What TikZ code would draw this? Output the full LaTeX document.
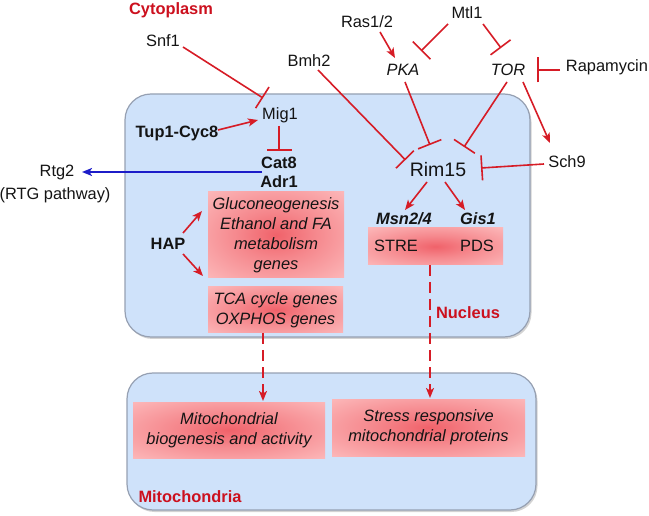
\documentclass[tikz,border=0pt]{standalone}
\usepackage{fontspec}
\setmainfont{Liberation Sans}
\usetikzlibrary{arrows.meta,shadows}
\definecolor{myred}{RGB}{214,28,38}
\definecolor{labred}{RGB}{204,16,30}
\definecolor{myblue}{RGB}{28,28,200}
\definecolor{nucfill}{RGB}{207,226,250}
\definecolor{boxedge}{RGB}{150,160,178}
\definecolor{pinkc}{RGB}{240,98,106}
\definecolor{pinke}{RGB}{255,204,204}
\pgfdeclareradialshading{pinkblob}{\pgfpoint{0bp}{0bp}}{color(0bp)=(pinkc); color(14bp)=(pinkc!65!pinke); color(45bp)=(pinke); color(75bp)=(pinke)}
\newcommand\basefont{\fontsize{16.4}{20}\selectfont}
\begin{document}
\begin{tikzpicture}[x=1pt,y=-1pt,
  lbl/.style={inner sep=0pt, align=center, text=black!92, font=\basefont},
  lblit/.style={lbl, font=\basefont\itshape},
  lblb/.style={lbl, font=\basefont\bfseries},
  lblbi/.style={lbl, font=\basefont\bfseries\itshape},
  lblr/.style={lbl, text=labred, font=\basefont\bfseries},
  act/.style={draw=myred, line width=1.6pt, -{Stealth[length=10pt,width=8pt,inset=2.5pt]}},
  inh/.style={draw=myred, line width=1.6pt, -{Bar[width=25pt,line width=1.6pt]}},
  dashact/.style={act, dash pattern=on 11pt off 6pt},
  compart/.style={fill=nucfill, draw=boxedge, line width=1.2pt, rounded corners=26pt,
     drop shadow={shadow xshift=1.5pt, shadow yshift=-2pt, opacity=0.35}},
  pinkbox/.style={shade, shading=pinkblob, inner sep=0pt, align=center, font=\basefont\itshape, text=black!92}
]
\useasboundingbox (0,0) rectangle (649,516);

% compartments
\node[compart, minimum width=405pt, minimum height=243pt] (nucbox) at (327.5,215.5) {};
\node[compart, minimum width=409pt, minimum height=137pt] (mitobox) at (331.5,441.5) {};

% pink gene boxes
\node[pinkbox, minimum width=136pt, minimum height=86pt] (gluco) at (276,235) {Gluconeogenesis\\Ethanol and FA\\metabolism\\genes};
\node[pinkbox, minimum width=135pt, minimum height=46pt] (tca) at (275.5,310) {TCA cycle genes\\OXPHOS genes};
\node[pinkbox, minimum width=135pt, minimum height=37pt] (stbox) at (435.5,246.5) {};
\node[pinkbox, minimum width=192pt, minimum height=56pt] (mitoa) at (229,430) {Mitochondrial\\biogenesis and activity};
\node[pinkbox, minimum width=193pt, minimum height=57pt] (mitob) at (428.5,427.5) {Stress responsive\\mitochondrial proteins};

% labels
\node[lblr] (cyto) at (171,10) {Cytoplasm};
\node[lbl] (snf) at (163,41) {Snf1};
\node[lbl] (bmh) at (309,61) {Bmh2};
\node[lbl] (ras) at (367,22) {Ras1/2};
\node[lbl] (mtl) at (467,13) {Mtl1};
\node[lblit] (pka) at (403,70) {PKA};
\node[lblit] (tor) at (508,70) {TOR};
\node[lbl] (rapa) at (607,67) {Rapamycin};
\node[lbl] (sch) at (567,162) {Sch9};
\node[lbl, font=\fontsize{19.5}{22}\selectfont] (rim) at (438,170) {Rim15};
\node[lbl] (mig) at (280,115) {Mig1};
\node[lblb] (tup) at (177,133) {Tup1-Cyc8};
\node[lblb] (cat) at (279,163) {Cat8};
\node[lblb] (adr) at (279,182) {Adr1};
\node[lbl] (rtg) at (57,172) {Rtg2};
\node[lbl] (rtgp) at (55,195) {(RTG pathway)};
\node[lblb] (hap) at (168,244) {HAP};
\node[lblbi] (msn) at (404,219) {Msn2/4};
\node[lblbi] (gis) at (478,219) {Gis1};
\node[lbl] (stre) at (396,246) {STRE};
\node[lbl] (pds) at (477,246) {PDS};
\node[lblr] (nuc) at (468,313) {Nucleus};
\node[lblr] (mito) at (190,497) {Mitochondria};

% connectors
\draw[inh] ([shift={(20,6)}]snf.center) -- ([shift={(-17,-17)}]mig.center);
\draw[act] ([shift={(41,-3)}]tup.center) -- ([shift={(-22,5)}]mig.center);
\draw[inh] ([shift={(-1,11)}]mig.center) -- ([shift={(0,-12)}]cat.center);
\draw[draw=myblue, line width=1.6pt, -{Stealth[length=10pt,width=8pt,inset=2.5pt]}] ([shift={(-17,9)}]cat.center) -- ([shift={(25,0)}]rtg.center);
\draw[inh] ([shift={(9,9)}]bmh.center) -- ([shift={(-32.5,-10)}]rim.center);
\draw[act] ([shift={(13,10)}]ras.center) -- ([shift={(-8,-12)}]pka.center);
\draw[inh] ([shift={(-19,11)}]mtl.center) -- ([shift={(18,-19)}]pka.center);
\draw[inh] ([shift={(16,11)}]mtl.center) -- ([shift={(-7,-22)}]tor.center);
\draw[inh] ([shift={(-47,3)}]rapa.center) -- ([shift={(29,0)}]tor.center);
\draw[act] ([shift={(15,12)}]tor.center) -- ([shift={(-17,-19)}]sch.center);
\draw[inh] ([shift={(2,12)}]pka.center) -- ([shift={(-8,-25)}]rim.center);
\draw[inh] ([shift={(-1,12)}]tor.center) -- ([shift={(26,-23)}]rim.center);
\draw[inh] ([shift={(-23,2)}]sch.center) -- ([shift={(43,-2)}]rim.center);
\draw[act] ([shift={(-11,12)}]rim.center) -- ([shift={(1,-9)}]msn.center);
\draw[act] ([shift={(7,12)}]rim.center) -- ([shift={(-13,-9)}]gis.center);
\draw[act] ([shift={(15,-11)}]hap.center) -- ([shift={(-74,-24)}]gluco.center);
\draw[act] ([shift={(15,10)}]hap.center) -- ([shift={(-73,41)}]gluco.center);
\draw[dashact] ([shift={(-12.5,23)}]tca.center) -- ([shift={(34,-29)}]mitoa.center);
\draw[dashact] ([shift={(-5.5,18.5)}]stbox.center) -- ([shift={(1.5,-29.5)}]mitob.center);
\end{tikzpicture}
\end{document}
